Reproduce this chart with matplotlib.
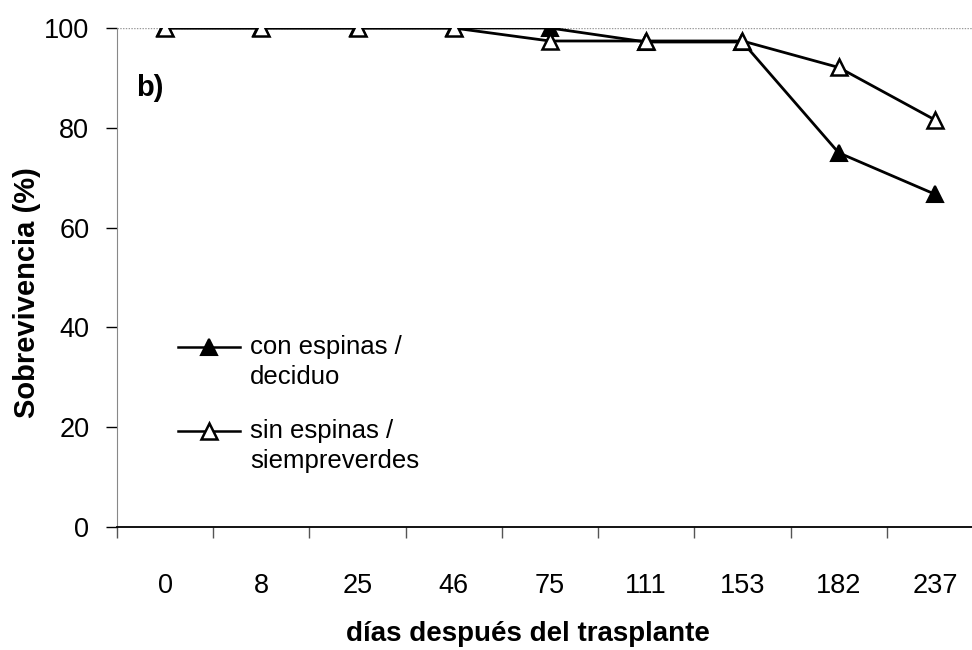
"""Survival after transplanting, spiny/deciduous vs spineless/evergreen."""

import matplotlib

matplotlib.use("Agg")
import numpy as np
from matplotlib import pyplot as plt
from matplotlib.lines import Line2D

plt.rcParams["font.family"] = ["Liberation Sans", "DejaVu Sans"]

days = ["0", "8", "25", "46", "75", "111", "153", "182", "237"]
con_espinas = [100, 100, 100, 100, 100, 97.2, 97.2, 75.0, 66.7]
sin_espinas = [100, 100, 100, 100, 97.4, 97.4, 97.4, 92.1, 81.6]
y_ticks = [0, 20, 40, 60, 80, 100]
legend_labels = [("con espinas /", "deciduo"), ("sin espinas /", "siempreverdes")]

x = np.arange(len(days))

fig = plt.figure(figsize=(9.72, 6.5), dpi=100)
ax = fig.add_axes([0.1204, 0.1892, 0.8909, 0.7677])

styles = [dict(mfc="black", mew=1.5), dict(mfc="white", mew=1.8)]
ax.plot(x, con_espinas, color="black", lw=2, marker="^", ms=11,
        mec="black", zorder=3, **styles[0])
ax.plot(x, sin_espinas, color="black", lw=2, marker="^", ms=11,
        mec="black", zorder=4, **styles[1])

ax.set_xlim(-0.5, len(days) - 0.5)
ax.set_ylim(0, 100)

# category labels at centres, tick marks on the boundaries
ax.set_xticks(np.arange(len(days) + 1) - 0.5)
ax.set_xticklabels([])
ax.set_xticks(x, minor=True)
ax.set_xticklabels(days, minor=True)
ax.tick_params(axis="x", which="major", direction="out", length=8,
               width=1, color="#555555")
ax.tick_params(axis="x", which="minor", length=0, pad=33, labelsize=19.5)

ax.set_yticks(y_ticks)
ax.tick_params(axis="y", direction="out", length=8, width=1,
               labelsize=19.5, pad=12)

ax.axhline(100, color="#999999", lw=1, ls=(0, (1, 1)), zorder=1)
for side in ("top", "right"):
    ax.spines[side].set_visible(False)
ax.spines["left"].set_color("#888888")
ax.spines["left"].set_linestyle((0, (1, 1)))
ax.spines["bottom"].set_linewidth(1.3)

ax.set_ylabel("Sobrevivencia (%)", fontsize=21, fontweight="bold", va="center")
ax.yaxis.set_label_coords(-0.104, 0.469)
ax.set_xlabel("días después del trasplante", fontsize=20, fontweight="bold",
              va="center")
ax.xaxis.set_label_coords(0.474, -0.214)

ax.text(-0.3, 88, "b)", fontsize=21, fontweight="bold", va="center")

# legend: handle lines up with the first text line of each entry
for (first, second), style, y0 in zip(legend_labels, styles, [0.3607, 0.1924]):
    ax.add_line(Line2D([0.0704, 0.142], [y0, y0], transform=ax.transAxes,
                       color="black", lw=1.8))
    ax.add_line(Line2D([0.106], [y0], transform=ax.transAxes, marker="^",
                       ms=11, mec="black", ls="none", **style))
    ax.text(0.1536, y0, first, transform=ax.transAxes, fontsize=18.5,
            va="center")
    ax.text(0.1536, y0 - 0.061, second, transform=ax.transAxes,
            fontsize=18.5, va="center")

fig.savefig("out.png", dpi=100)
